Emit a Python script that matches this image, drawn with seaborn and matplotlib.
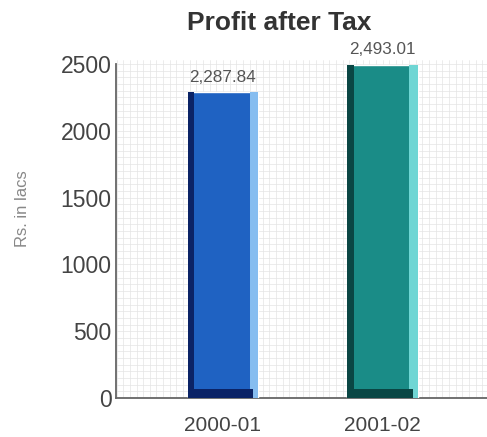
import matplotlib
matplotlib.use("Agg")
import matplotlib.pyplot as plt
from matplotlib.patches import Rectangle
from matplotlib.ticker import MultipleLocator
import seaborn as sns
import pandas as pd

# данные графика
years = ["2000-01", "2001-02"]
profit = [2287.84, 2493.01]
value_labels = ["2,287.84", "2,493.01"]

# цвета: основной, тёмная грань, светлая грань
main_colors = ["#1f62c2", "#1a8c87"]
dark_colors = ["#0b2366", "#0a4644"]
light_colors = ["#86bdf0", "#6fd6d4"]

sns.set_theme(style="white")
plt.rcParams["font.family"] = ["Liberation Sans", "DejaVu Sans"]

df = pd.DataFrame({"year": years, "profit": profit})

fig = plt.figure(figsize=(4.87, 4.37), dpi=100)
ax = fig.add_axes([0.238, 0.089, 0.762, 0.774])

sns.barplot(data=df, x="year", y="profit", hue="year", palette=main_colors,
            width=0.44, legend=False, saturation=1, ax=ax, zorder=3)

# псевдо-3D грани у столбиков
for i, p in enumerate(ax.patches[:len(years)]):
    x0, w, h = p.get_x(), p.get_width(), p.get_height()
    ax.add_patch(Rectangle((x0, 0), w * 0.09, h, color=dark_colors[i], lw=0, zorder=4))
    ax.add_patch(Rectangle((x0 + w * 0.88, 0), w * 0.12, h, color=light_colors[i], lw=0, zorder=4))
    ax.add_patch(Rectangle((x0, 0), w * 0.93, 70, color=dark_colors[i], lw=0, zorder=4))
    ax.text(x0 + w / 2, h + 55, value_labels[i], ha="center", va="bottom",
            fontsize=12.3, color="#555555", zorder=5)

ax.set_xlim(-0.671, 1.655)
ax.set_ylim(0, 2530)
ax.set_yticks([0, 500, 1000, 1500, 2000, 2500])

# сетка как на миллиметровке
ax.yaxis.set_minor_locator(MultipleLocator(50))
ax.xaxis.set_minor_locator(MultipleLocator(1 / 24))
ax.grid(which="both", color="#e4e4e4", lw=0.5, zorder=0)
ax.set_axisbelow(True)

for s in ["top", "right"]:
    ax.spines[s].set_visible(False)
ax.spines["left"].set_bounds(0, 2500)
for s in ["left", "bottom"]:
    ax.spines[s].set_color("#666666")
    ax.spines[s].set_linewidth(1.3)

ax.tick_params(axis="y", which="major", direction="in", length=5, width=1.2,
               color="#666666", labelsize=16.5, labelcolor="#444444", pad=3)
ax.tick_params(axis="x", which="major", length=0, labelsize=15, labelcolor="#444444", pad=13)
ax.tick_params(which="minor", length=0)

ax.set_xlabel("")
ax.set_ylabel("")
fig.text(0.046, 0.523, "Rs. in lacs", rotation=90, ha="center", va="center",
         fontsize=12, color="#888888")
fig.text(0.573, 0.948, "Profit after Tax", ha="center", va="center",
         fontsize=19, fontweight="bold", color="#333333")

fig.savefig("out.png", dpi=100)
